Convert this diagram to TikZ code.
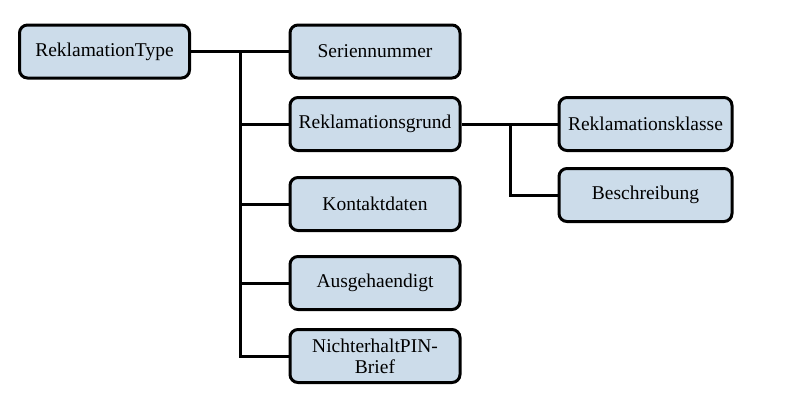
\documentclass[tikz,border=0pt]{standalone}
\usepackage{fontspec}
\setmainfont{Liberation Serif}
\newfontfamily\boxfont{Liberation Serif}
\usetikzlibrary{positioning}
\definecolor{boxfill}{HTML}{CCDCEA}

\begin{document}
\begin{tikzpicture}[x=1pt, y=-1pt, font=\boxfont\fontsize{19.5}{21}\selectfont,
  k/.style={draw=black, fill=boxfill, line width=3pt, rounded corners=8pt, align=center,
            minimum width=170pt, minimum height=53pt, inner sep=2pt},
  l/.style={line width=3pt, color=black}]
\useasboundingbox (0,0) rectangle (786,410);

% ---------------- root and first level
\node[k] (root) at (104.5,51.5) {ReklamationType};
\node[k] (ser)  at (375,51.5)  {Seriennummer};
\node[k] (grund) at (375,124)  {Reklamationsgrund};
\node[k] (kont) at (375,204)   {Kontaktdaten};
\node[k] (aus)  at (375,283)   {Ausgehaendigt};
\node[k] (nich) at (375,356)   {NichterhaltPIN-\\Brief};

% ---------------- second level
\node[k, minimum width=173pt] (klasse) at (645.5,124) {Reklamationsklasse};
\node[k, minimum width=173pt] (besch)  at (645.5,195) {Beschreibung};

% ---------------- connectors
\coordinate (j1) at (240,51.5);
\coordinate (j2) at (510,124);
\draw[l] (root) -- (ser);
\draw[l] (j1) |- (nich.west);
\draw[l] (j1 |- grund.west) -- (grund.west);
\draw[l] (j1 |- kont.west) -- (kont.west);
\draw[l] (j1 |- aus.west) -- (aus.west);
\draw[l] (grund) -- (klasse);
\draw[l] (j2) |- (besch.west);
\end{tikzpicture}
\end{document}
